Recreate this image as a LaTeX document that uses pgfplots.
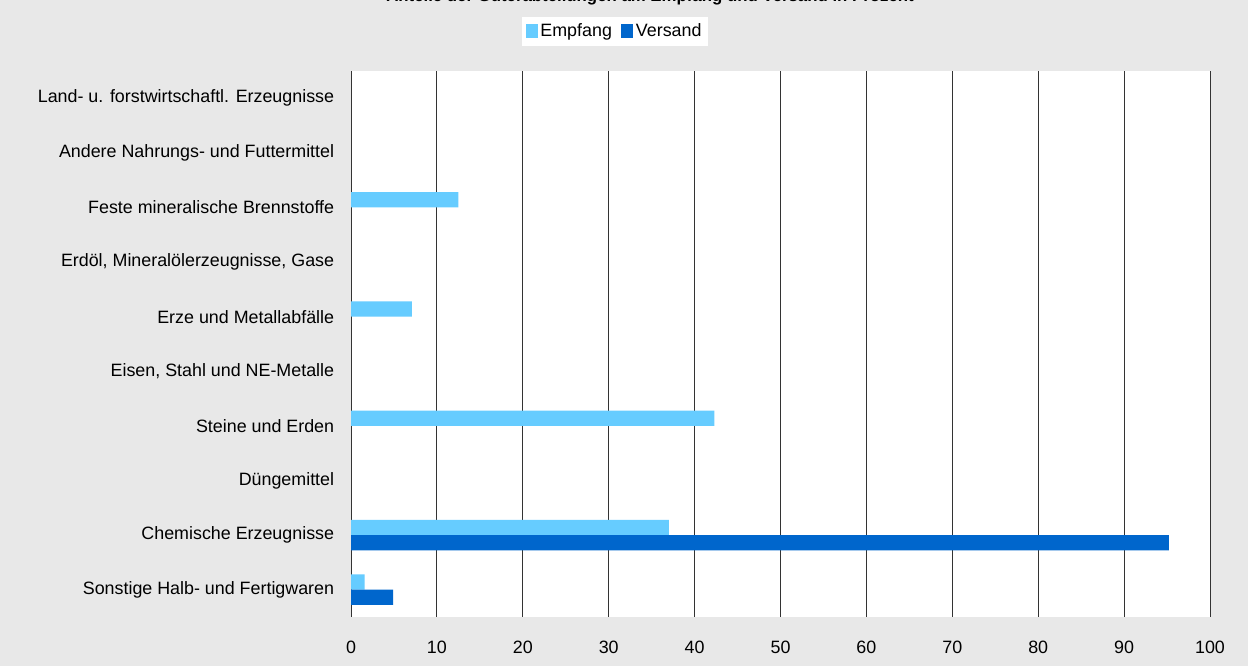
\documentclass[border=0pt]{standalone}
\usepackage{fontspec}
\setmainfont{Liberation Sans}
\usepackage{pgfplots}
\pgfplotsset{compat=1.18}
\definecolor{bg}{HTML}{E8E8E8}
\definecolor{empf}{HTML}{66CCFF}
\definecolor{vers}{HTML}{0066CC}
\begin{document}
\fontsize{13.4}{16}\selectfont
\begin{tikzpicture}
\fill[bg] (0pt,0pt) rectangle (936pt,499.5pt);
\node[anchor=base,font=\fontsize{12.6}{15}\selectfont\bfseries] at (487.5pt,498.4pt) {Anteile der Güterabteilungen am Empfang und Versand in Prozent};
\begin{axis}[
  at={(263.25pt,36.75pt)}, anchor=south west,
  scale only axis, width=644.25pt, height=409.5pt,
  xbar, bar width=0.28,
  xmin=0, xmax=100, ymin=-0.5, ymax=9.5,
  xtick={0,10,...,100},
  ytick={0,...,9},
  yticklabels={Sonstige Halb- und Fertigwaren, Chemische Erzeugnisse, Düngemittel, Steine und Erden, {Eisen, Stahl und NE-Metalle}, Erze und Metallabfälle, {Erdöl, Mineralölerzeugnisse, Gase}, Feste mineralische Brennstoffe, Andere Nahrungs- und Futtermittel, Land- u. forstwirtschaftl. Erzeugnisse},
  axis background/.style={fill=white},
  axis line style={draw=none},
  major tick length=0pt,
  xmajorgrids, major grid style={black!80, line width=0.7pt},
  /pgf/number format/assume math mode=true,
  tick label style={font=\fontsize{13.4}{16}\selectfont},
  xticklabel style={yshift=-13pt},
  yticklabel style={xshift=-8pt},
  legend style={at={(0.3073,1.0723)}, anchor=center, legend columns=2, draw=none, fill=white, font=\fontsize{13.4}{16}\selectfont, inner sep=3pt, /tikz/every even column/.append style={column sep=5pt}},
  legend image code/.code={\fill[#1] (0pt,-4.5pt) rectangle (9pt,5.5pt);},
]
\addplot[fill=empf, draw=none, bar shift=0.14] coordinates {(12.5,7) (7.1,5) (42.3,3) (37.0,1) (1.6,0)};
\addplot[fill=vers, draw=none, bar shift=-0.14] coordinates {(95.2,1) (4.9,0)};
\legend{Empfang, Versand}
\end{axis}
\pgfresetboundingbox
\useasboundingbox (0pt,0pt) rectangle (936pt,499.5pt);
\end{tikzpicture}
\end{document}
